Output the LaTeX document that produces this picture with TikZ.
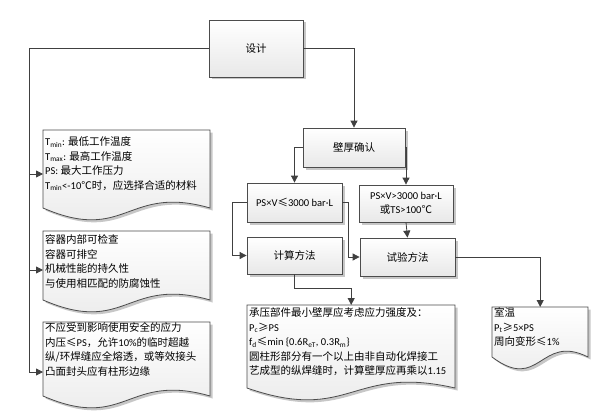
\documentclass[tikz,border=0pt]{standalone}
\usepackage{fontspec}
\setmainfont{Carlito}
\newfontfamily\cjk{Noto Sans CJK SC}
\usetikzlibrary{arrows.meta,shadows}
\newcommand\Z[1]{{\cjk #1}}
\tikzset{
  shadowed/.style={drop shadow={shadow xshift=2.5pt, shadow yshift=-2.5pt, fill=black, opacity=0.22}},
  boxstyle/.style={draw=black!70, line width=0.8pt, top color=white, bottom color=black!9,
    shadowed, inner sep=0pt, font=\cjk\fontsize{10.5}{14}\selectfont, align=center},
  docstyle/.style={draw=black!70, line width=0.8pt, top color=white, bottom color=black!9, shadowed},
  conn/.style={draw=black!75, line width=0.8pt},
  arr/.style={conn, -{Triangle[length=7pt,width=7pt]}},
  doctext/.style={anchor=north west, align=left, inner sep=0pt, font=\fontsize{10.5}{14.5}\selectfont},
  area/.style={inner sep=0pt, anchor=north west},
}
% #1 x0, #2 x1, #3 ytop, #4 ybottom-corner
\newcommand\docshape[4]{%
  \path[docstyle] (#1,#3) -- (#2,#3) -- (#2,#4)
    .. controls ({(#1+#2)/2},{#4-24}) and ({(#1+#2)/2},{#4+36}) .. (#1,#4) -- cycle;}
\begin{document}
\begin{tikzpicture}[x=1pt,y=-1pt]
\useasboundingbox (0,0) rectangle (596,417);
\fill[white] (0,0) rectangle (596,417);

% process boxes
\node[boxstyle, minimum width=94pt, minimum height=57pt] (design) at (256,48.5) {设计};
\node[boxstyle, minimum width=102pt, minimum height=39pt] (wh) at (354,147.5) {壁厚确认};
\node[boxstyle, minimum width=95pt, minimum height=39pt, font=\fontsize{10.5}{14}\selectfont] (ps1) at (294.5,202.5) {PS×V\Z{≤}3000 bar·L};
\node[boxstyle, minimum width=94pt, minimum height=37pt, font=\fontsize{10.5}{14}\selectfont] (ps2) at (406,203.5) {PS×V>3000 bar·L\\\Z{或}TS>100\Z{℃}};
\node[boxstyle, minimum width=95pt, minimum height=37pt] (calc) at (294.5,255.5) {计算方法};
\node[boxstyle, minimum width=95pt, minimum height=38pt] (test) at (407.5,257) {试验方法};

% document shapes
\docshape{43}{210}{130}{208}
\node[area, minimum width=167pt, minimum height=78pt] (d1) at (43,130) {};
\node[doctext] (t1) at (45,136.5) {T\textsubscript{min}: \Z{最低工作温度}\\T\textsubscript{max}: \Z{最高工作温度}\\PS: \Z{最大工作压力}\\T\textsubscript{min}<-10\Z{℃时，应选择合适的材料}};

\docshape{43}{210}{231}{300}
\node[area, minimum width=167pt, minimum height=69pt] (d2) at (43,231) {};
\node[doctext, font=\cjk\fontsize{10.5}{14.5}\selectfont] (t2) at (45,234.5) {容器内部可检查\\容器可排空\\机械性能的持久性\\与使用相匹配的防腐蚀性};

\docshape{43}{210}{322}{396}
\node[area, minimum width=167pt, minimum height=74pt] (d3) at (43,322) {};
\node[doctext] (t3) at (45,322.5) {\Z{不应受到影响使用安全的应力}\\\Z{内压≤}PS\Z{，允许}10\%\Z{的临时超越}\\\Z{纵/环焊缝应全熔透，或等效接头}\\\Z{凸面封头应有柱形边缘}};

\docshape{247}{455}{305}{388}
\node[area, minimum width=208pt, minimum height=83pt] (d4) at (247,305) {};
\node[doctext] (t4) at (249,307.5) {\Z{承压部件最小壁厚应考虑应力强度及：}\\P\textsubscript{c}\Z{≥}PS\\f\textsubscript{d}\Z{≤}min \{0.6R\textsubscript{eT}, 0.3R\textsubscript{m}\}\\\Z{圆柱形部分有一个以上由非自动化焊接工}\\\Z{艺成型的纵焊缝时，计算壁厚应再乘以}1.15};

\docshape{492}{588}{307}{357}
\node[area, minimum width=96pt, minimum height=50pt] (d5) at (492,307) {};
\node[doctext] (t5) at (494,307.5) {\Z{室温}\\P\textsubscript{t}\Z{≥}5×PS\\\Z{周向变形≤}1\%};

% left trunk
\coordinate (trunk) at (29,372);
\coordinate (b1) at (29,174);
\coordinate (b2) at (29,270);
\draw[arr] (design.west) -| (trunk) -- (trunk -| d3.west);
\draw[arr] (b1) -- (b1 -| d1.west);
\draw[arr] (b2) -- (b2 -| d2.west);

% right side
\draw[arr] (design.east) -| (wh.north);
\draw[arr] (wh.west) -| (ps1.north);
\draw[arr] (wh.east) -| (ps2.north);
\draw[arr] (ps1.west) -- ++(-14pt,0) |- (calc.west);
\draw[arr] (ps1.east) -- ++(6pt,0) |- (test.west);
\draw[arr] (ps2.south) -- (test.north);
\draw[arr] (test.east) -| (d5.north);
\draw[arr] (calc.south) -- ++(0,-14pt) -| (d4.north);
\end{tikzpicture}
\end{document}
